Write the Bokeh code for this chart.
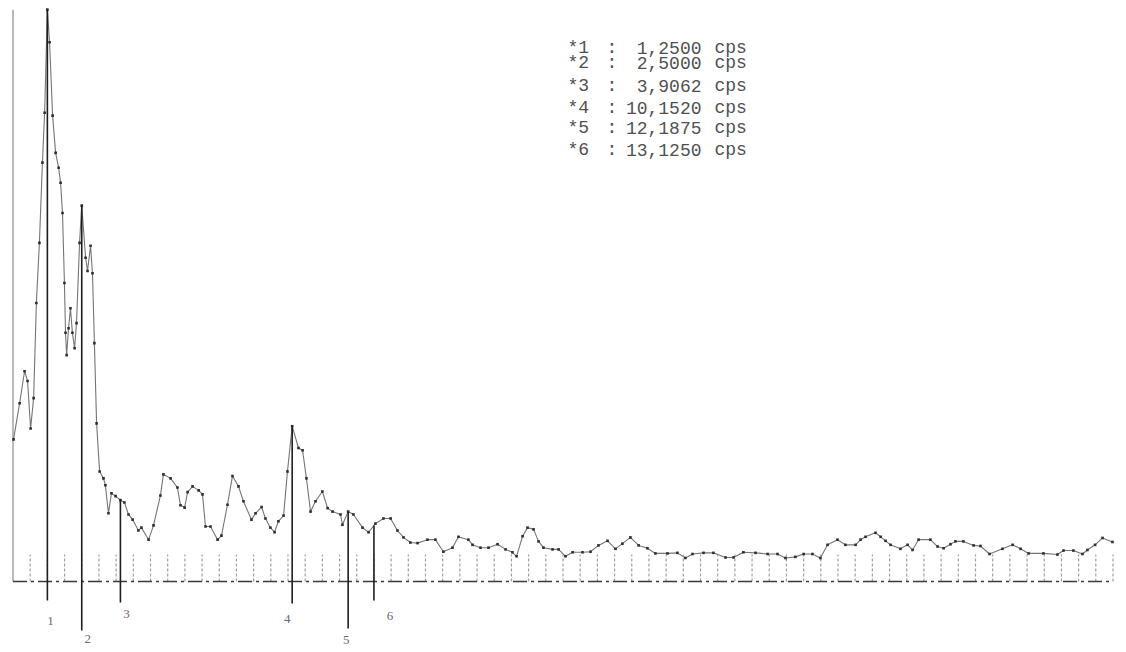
import numpy as np
from bokeh.plotting import figure
from bokeh.models import Range1d, Label
from bokeh.core.properties import value
from bokeh.embed import file_html
from bokeh.resources import INLINE

# Power spectrum samples: frequency in cps, amplitude relative to the main peak (= 100)
freq = [0.02, 0.24, 0.42, 0.53, 0.64, 0.75, 0.85, 0.96, 1.07, 1.15, 1.25, 1.33, 1.44,
        1.55, 1.66, 1.73, 1.80, 1.87, 1.91, 1.95, 2.02, 2.09, 2.16, 2.24, 2.31, 2.42,
        2.50, 2.64, 2.71, 2.82, 2.89, 2.96, 3.04, 3.15, 3.29, 3.36, 3.47, 3.58, 3.73,
        3.906, 4.05, 4.20, 4.35, 4.56, 4.67, 4.93, 5.11, 5.36, 5.47, 5.73, 5.98, 6.09,
        6.24, 6.35, 6.53, 6.75, 6.89, 7.00, 7.18, 7.44, 7.58, 7.80, 7.98, 8.20, 8.38,
        8.67, 8.82, 9.04, 9.18, 9.36, 9.51, 9.65, 9.84, 9.98, 10.152, 10.38, 10.53,
        10.67, 10.82, 11.00, 11.25, 11.44, 11.62, 11.91, 11.98, 12.1875, 12.38, 12.71,
        12.93, 13.18, 13.47, 13.73, 13.98, 14.20, 14.45, 14.71, 15.07, 15.36, 15.65,
        15.98, 16.20, 16.56, 16.71, 17.00, 17.29, 17.62, 17.91, 18.16, 18.31, 18.53,
        18.71, 18.93, 19.11, 19.29, 19.62, 19.84, 20.09, 20.35, 20.71, 21.00, 21.29,
        21.62, 21.91, 22.16, 22.45, 22.75, 23.07, 23.36, 23.80, 24.16, 24.45, 24.71,
        25.11, 25.47, 25.91, 26.20, 26.56, 27.00, 27.44, 27.80, 28.09, 28.45, 28.75,
        29.07, 29.36, 29.62, 29.98, 30.27, 30.64, 30.82, 31.00, 31.36, 31.55, 31.73,
        31.91, 32.27, 32.53, 32.71, 32.93, 33.36, 33.62, 33.84, 34.09, 34.27, 34.56,
        34.93, 35.18, 35.51, 35.98, 36.35, 36.64, 36.93, 37.47, 37.98, 38.20, 38.56,
        38.89, 39.07, 39.35, 39.62, 39.98]
amp = [24.8, 31.1, 36.7, 35.0, 26.7, 32.0, 48.6, 59.1, 73.1, 81.8, 99.8, 94.1, 81.3,
       74.8, 72.2, 69.6, 64.3, 52.1, 43.4, 39.5, 44.2, 47.7, 43.4, 40.7, 45.1, 59.1,
       65.6, 56.5, 54.2, 58.6, 53.8, 41.6, 27.6, 19.2, 18.0, 16.8, 11.9, 15.4, 14.9,
       14.2, 13.8, 11.7, 10.8, 8.9, 9.4, 7.3, 9.8, 15.0, 18.7, 18.0, 16.4, 13.3,
       12.9, 15.6, 16.6, 15.9, 15.2, 9.6, 9.6, 7.3, 8.0, 13.4, 18.4, 16.6, 14.0,
       10.8, 11.9, 13.0, 11.0, 9.4, 8.6, 10.5, 11.5, 19.2, 27.1, 23.3, 22.9,
       18.0, 12.2, 14.0, 15.7, 12.8, 12.2, 11.7, 9.9, 12.2, 11.7, 9.4,
       8.6, 10.1, 11.0, 11.0, 8.9, 7.7, 6.8, 6.7, 7.3, 7.3, 5.2,
       5.9, 7.8, 7.3, 6.4, 5.9, 5.9, 6.5, 5.6, 5.1, 4.4, 7.9,
       9.4, 9.1, 7.0, 5.9, 5.6, 5.6, 4.4, 5.1, 5.1, 5.2, 6.3,
       7.1, 5.7, 6.6, 7.7, 6.3, 5.8, 4.9, 4.9, 5.0, 4.1, 4.8,
       5.0, 5.0, 4.2, 4.2, 5.1, 5.0, 4.8, 4.8, 4.1, 4.3, 4.8,
       4.8, 4.1, 6.4, 7.3, 6.4, 6.4, 7.3, 7.8, 8.5, 7.8, 7.1,
       6.4, 5.7, 6.4, 5.5, 7.3, 7.3, 6.1, 5.8, 6.5, 7.0, 7.0,
       6.3, 6.2, 4.8, 5.7, 6.4, 5.7, 4.9, 4.9, 4.7, 5.4, 5.4,
       4.8, 5.5, 6.4, 7.6, 6.9]

# Marked spectral lines
mark_ids = ["1", "2", "3", "4", "5", "6"]
mark_freq = [1.25, 2.5, 3.9062, 10.152, 12.1875, 13.125]
mark_text = ["1,2500", "2,5000", "3,9062", "10,1520", "12,1875", "13,1250"]

# Frequency scale: tick every 0.625 cps up to 40 cps
tick_step = 0.625
f_max = 40.0

# ---- page geometry (pixels) ----
W, H = 1126, 652
X0_PX, PX_PER_CPS = 12.5, 27.5      # screen x of 0 cps, pixels per cps
Y0_PX, PX_PER_UNIT = 581.0, 5.73    # screen y (from top) of zero amplitude, pixels per unit

p = figure(width=W, height=H, output_backend="svg", toolbar_location=None,
           x_range=Range1d(-X0_PX / PX_PER_CPS, (W - X0_PX) / PX_PER_CPS),
           y_range=Range1d(-(H - Y0_PX) / PX_PER_UNIT, Y0_PX / PX_PER_UNIT),
           min_border=0, background_fill_color="white", border_fill_color="white")
p.axis.visible = False
p.grid.visible = False
p.outline_line_color = None

# left amplitude rule
p.segment(x0=[0], y0=[0], x1=[0], y1=[max(amp)], line_color="#8a8a8a", line_width=1.2)

# frequency ticks above the base line
ticks = np.arange(tick_step, f_max + 1e-9, tick_step)
tick_h = 27 / PX_PER_UNIT
p.segment(x0=ticks, y0=np.zeros_like(ticks), x1=ticks, y1=np.full_like(ticks, tick_h),
          line_color="#a0a0a0", line_width=1.2, line_dash="3 2")

# base line (dash-dot)
p.line([0, f_max], [0, 0], line_color="#3a3a3a", line_width=1.6, line_dash="14 4 3 4")

# spectrum trace
p.line(freq, amp, line_color="#757575", line_width=1.1)
p.scatter(freq, amp, marker="square", size=2.6, fill_color="#2e2e2e",
          line_color=None)

# marker lines: from the trace down below the base line, alternating depth
mark_top = np.interp(mark_freq, freq, amp)
depth_px = [19, 49, 21, 22, 47, 19]
mark_bottom = [-d / PX_PER_UNIT for d in depth_px]
p.segment(x0=mark_freq, y0=mark_top, x1=mark_freq, y1=mark_bottom,
          line_color="#1e1e1e", line_width=1.6)

# marker numbers under the lines
lab_dx = [3, 6, 6, -5, -2, 16]     # px
lab_dy = [20, 8, 11, 15, 11, 15]   # px below line end
lab_x = [f + dx / PX_PER_CPS for f, dx in zip(mark_freq, lab_dx)]
lab_y = [b - dy / PX_PER_UNIT for b, dy in zip(mark_bottom, lab_dy)]
p.text(x=lab_x, y=lab_y, text=mark_ids, text_font=value("Liberation Serif"),
       text_font_size="13px", text_color="#6a6a6a", text_align="center",
       text_baseline="middle")

# frequency list at top right
row_y = [47, 62, 85, 107, 127, 149]   # px from top
mono = "Liberation Mono"
for mid, txt, ty in zip(mark_ids, mark_text, row_y):
    ys = H - ty
    common = dict(y=ys, x_units="screen", y_units="screen", text_font=mono,
                  text_font_size="18px", text_color="#505050", text_baseline="middle")
    p.add_layout(Label(x=567, text="*" + mid, text_align="left", **common))
    p.add_layout(Label(x=606, text=":", text_align="left", **common))
    p.add_layout(Label(x=701, text=txt, text_align="right", **common))
    p.add_layout(Label(x=714, text="cps", text_align="left", **common))

open("out.html", "w").write(file_html(p, INLINE))
